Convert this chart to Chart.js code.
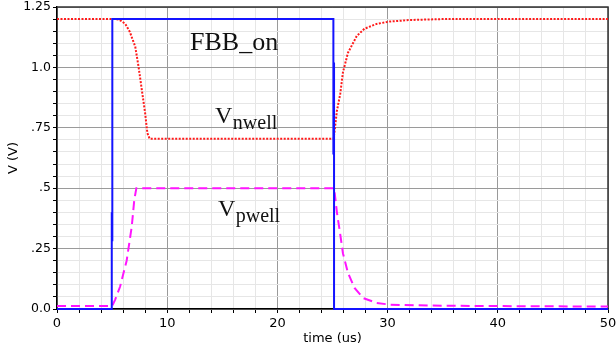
<!DOCTYPE html>
<html>
<head>
<meta charset="utf-8">
<script src="https://cdn.jsdelivr.net/npm/chart.js@4.4.1/dist/chart.umd.min.js"></script>
<style>
  html, body { margin: 0; padding: 0; background: #fff; }
  #wrap { width: 616px; height: 350px; }
</style>
</head>
<body>
<div id="wrap"><canvas id="fbbChart" width="616" height="350"></canvas></div>
<script>
// gate signal (blue, solid)
const gateT = [0, 4.97, 4.97, 5.02, 5.02, 25.08, 25.08, 25.14, 25.14, 50];
const gateV = [0, 0, 0.4, 0.28, 1.2, 1.2, 0.64, 1.02, 0, 0];

// V nwell (red, dotted)
const nwellT = [0, 5.3, 5.6, 5.9, 6.2, 6.6, 7.1, 7.4, 7.7, 8.0, 8.2, 8.4, 25.1, 25.2, 25.4, 25.7, 25.95, 26.4, 27.2, 27.9, 29.0, 30.2, 32.0, 35, 50];
const nwellV = [1.2, 1.2, 1.198, 1.19, 1.18, 1.148, 1.086, 1.003, 0.906, 0.81, 0.728, 0.705, 0.705, 0.74, 0.82, 0.89, 0.98, 1.06, 1.13, 1.16, 1.18, 1.19, 1.196, 1.2, 1.2];

// V pwell (magenta, dashed)
const pwellT = [0, 5.0, 5.26, 5.72, 6.32, 6.78, 7.01, 7.2, 25.15, 25.4, 25.7, 25.95, 26.4, 27.0, 27.8, 29.0, 30.2, 34, 40, 50];
const pwellV = [0.012, 0.012, 0.037, 0.092, 0.2, 0.34, 0.45, 0.5, 0.5, 0.4, 0.31, 0.23, 0.15, 0.087, 0.045, 0.025, 0.018, 0.014, 0.012, 0.01];

// tick labels
const xTickValues = [0, 10, 20, 30, 40, 50];
const yTickValues = [0, 0.25, 0.5, 0.75, 1.0, 1.25];
const yTickLabels = ['0.0', '.25', '.5', '.75', '1.0', '1.25'];

const toPoints = (ts, vs) => ts.map((t, i) => ({ x: t, y: vs[i] }));

const isMajorY = v => Math.abs(Math.round(v * 100) % 25) === 0;
const isMajorX = v => Math.round(v) % 10 === 0;

// top/right frame lines + text labels
const framePlugin = {
    id: 'frame',
    beforeDatasetsDraw(chart) {
        const { ctx, chartArea: a } = chart;
        ctx.save();
        ctx.strokeStyle = '#333';
        ctx.lineWidth = 1.5;
        ctx.beginPath();
        ctx.moveTo(a.left, a.top);
        ctx.lineTo(a.right, a.top);
        ctx.lineTo(a.right, a.bottom);
        ctx.stroke();
        ctx.restore();
    },
    afterDatasetsDraw(chart) {
        const { ctx, scales } = chart;
        const px = t => scales.x.getPixelForValue(t);
        const py = v => scales.y.getPixelForValue(v);
        ctx.save();
        ctx.fillStyle = '#111';
        ctx.textBaseline = 'alphabetic';
        ctx.textAlign = 'left';
        ctx.font = '26px "Liberation Serif", "Times New Roman", serif';
        ctx.fillText('FBB_on', px(12.07), py(1.072));

        const sub = (main, subTxt, t, v) => {
            ctx.font = '24px "Liberation Serif", "Times New Roman", serif';
            const x0 = px(t), y0 = py(v);
            ctx.fillText(main, x0, y0);
            const w = ctx.measureText(main).width;
            ctx.font = '20px "Liberation Serif", "Times New Roman", serif';
            ctx.fillText(subTxt, x0 + w + 0.5, y0 + 6);
        };
        sub('V', 'nwell', 14.34, 0.77);
        sub('V', 'pwell', 14.6, 0.385);
        ctx.restore();
    }
};

new Chart(document.getElementById('fbbChart').getContext('2d'), {
    type: 'line',
    data: {
        datasets: [{
            label: 'gate',
            data: toPoints(gateT, gateV),
            borderColor: '#1414ff',
            borderWidth: 2,
            pointRadius: 0,
            tension: 0,
            clip: false
        }, {
            label: 'Vnwell',
            data: toPoints(nwellT, nwellV),
            borderColor: '#ff1a1a',
            borderWidth: 2,
            borderDash: [2, 1.5],
            pointRadius: 0,
            tension: 0,
            clip: false
        }, {
            label: 'Vpwell',
            data: toPoints(pwellT, pwellV),
            borderColor: '#ff14ff',
            borderWidth: 2,
            borderDash: [9, 5],
            pointRadius: 0,
            tension: 0,
            clip: false
        }]
    },
    options: {
        responsive: false,
        animation: false,
        devicePixelRatio: 1,
        layout: { padding: { left: 0, right: 0, top: 7, bottom: 0 } },
        plugins: {
            legend: { display: false },
            tooltip: { enabled: false }
        },
        scales: {
            x: {
                type: 'linear',
                min: 0,
                max: 50,
                afterFit: s => { s.height = 41; s.paddingRight = 8; s.paddingLeft = 0; },
                ticks: {
                    stepSize: 2,
                    autoSkip: false,
                    maxRotation: 0,
                    padding: 3,
                    color: '#000',
                    font: { family: '"DejaVu Sans", Verdana, sans-serif', size: 13 },
                    callback: v => xTickValues.includes(Math.round(v)) && isMajorX(v) ? String(Math.round(v)) : ''
                },
                grid: {
                    color: c => isMajorX(c.tick.value) ? '#9a9a9a' : '#e6e6e6',
                    tickColor: '#000',
                    tickLength: 4,
                    lineWidth: 1
                },
                border: { color: '#000', width: 1.5 },
                title: {
                    display: true,
                    text: 'time (us)',
                    color: '#000',
                    padding: { top: 0, bottom: 4 },
                    font: { family: '"DejaVu Sans", Verdana, sans-serif', size: 13 }
                }
            },
            y: {
                type: 'linear',
                min: 0,
                max: 1.25,
                afterFit: s => { s.width = 57; s.paddingTop = 0; s.paddingBottom = 0; },
                ticks: {
                    stepSize: 0.05,
                    autoSkip: false,
                    padding: 2,
                    color: '#000',
                    font: { family: '"DejaVu Sans", Verdana, sans-serif', size: 12.5 },
                    callback: v => {
                        const i = yTickValues.findIndex(y => Math.abs(y - v) < 1e-6);
                        return i >= 0 ? yTickLabels[i] : '';
                    }
                },
                grid: {
                    color: c => isMajorY(c.tick.value) ? '#9a9a9a' : '#e6e6e6',
                    tickColor: '#000',
                    tickLength: 4,
                    lineWidth: 1
                },
                border: { color: '#000', width: 1.5 },
                title: {
                    display: true,
                    text: 'V (V)',
                    color: '#000',
                    padding: { top: 6, bottom: 0 },
                    font: { family: '"DejaVu Sans", Verdana, sans-serif', size: 13 }
                }
            }
        }
    },
    plugins: [framePlugin]
});
</script>
</body>
</html>
